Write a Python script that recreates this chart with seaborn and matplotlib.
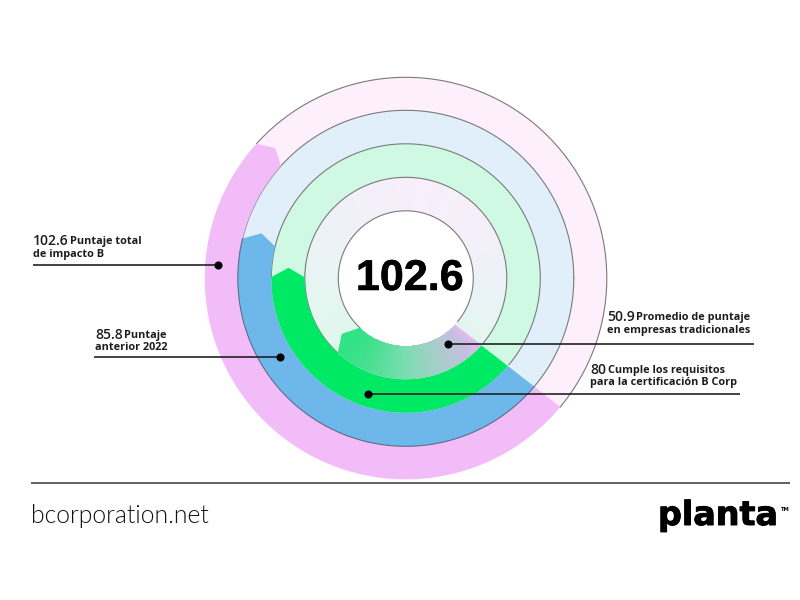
import numpy as np
import pandas as pd
import matplotlib
matplotlib.use("Agg")
import matplotlib.pyplot as plt
import matplotlib.patheffects as pe
from matplotlib.colors import LinearSegmentedColormap
import seaborn as sns

# ---- data ----
scores = [102.6, 85.8, 80, 50.9]
score_texts = ["102.6", "85.8", "80", "50.9"]
label_first = ["Puntaje total", "Puntaje", "Cumple los requisitos", "Promedio de puntaje"]
label_second = ["de impacto B", "anterior 2022", "para la certificación B Corp", "en empresas tradicionales"]
arc_sweep_deg = [182.0, 153.7, 140.5, 92.5]      # angle swept clockwise by each bar
solid_colors = ["#F2BCF9", "#6DB7EA", "#00E965", None]
pale_colors = ["#FDEFFC", "#E1EFFA", "#CFF9E3", None]
ring_edges = [201, 168, 134.5, 101, 67.5]        # outer to inner
center_text = "102.6"
source_text = "bcorporation.net"
brand_text = "planta"

W, H = 800, 600
CX, CY = 405.8, 278.3
RMAX = 205
START = -40.0

sns.set_theme(style="white")
fig = plt.figure(figsize=(8, 6), dpi=100, facecolor="white")

ov = fig.add_axes([0, 0, 1, 1], zorder=3)
ov.set_xlim(0, W); ov.set_ylim(H, 0); ov.axis("off"); ov.patch.set_alpha(0)
ax = fig.add_axes([(CX-RMAX)/W, (H-CY-RMAX)/H, 2*RMAX/W, 2*RMAX/H],
                  projection="polar", zorder=2)
ax.set_ylim(0, RMAX); ax.axis("off"); ax.patch.set_alpha(0)


def start_theta(r):
    """The bars begin on one straight cut, slightly off the centre."""
    t = np.linspace(-0.3, 1.3, 400)
    x = 50 + t*(154.3-50)
    y = -47.3 + t*(-128.3+47.3)
    return np.interp(r, np.hypot(x, y), np.degrees(np.arctan2(y, x)))


def bar_outline(r_in, r_out, sweep):
    end = START - sweep
    r_mid = (r_in+r_out)/2
    tip = end - np.degrees(9.5/r_mid)
    s_out, s_in = start_theta(r_out), start_theta(r_in)
    outer = np.linspace(s_out, end, 200)
    inner = np.linspace(end, s_in, 200)
    th = np.r_[outer, tip, inner]
    rr = np.r_[np.full(200, r_out), r_mid, np.full(200, r_in)]
    return np.radians(th), rr


# pale tracks
for i, c in enumerate(pale_colors):
    if c is None:
        continue
    tt = np.radians(np.linspace(0, 360, 361))
    ax.fill(np.r_[tt, tt[::-1]],
            np.r_[np.full(361, ring_edges[i]), np.full(361, ring_edges[i+1])],
            color=c, lw=0, zorder=1)

# innermost pale track: conic gradient
pale_cmap = LinearSegmentedColormap.from_list(
    "pale", ["#E4F5F1", "#F2F0F9", "#F9EEFB", "#EFF1F8", "#E4F6F0", "#D8F8E8", "#E4F5F1"])
th_grid = np.radians(np.linspace(-40, 320, 361))
r_grid = np.array([ring_edges[4], ring_edges[3]])
ax.pcolormesh(th_grid, r_grid, np.linspace(0, 1, 360)[None, :], cmap=pale_cmap,
              shading="flat", zorder=1, antialiased=False, rasterized=True)

# thin circles: each stops where its own solid bar runs
hair_sweeps = [arc_sweep_deg[0], 0.0, arc_sweep_deg[2], arc_sweep_deg[3], arc_sweep_deg[3]]
for r, sw in zip(ring_edges, hair_sweeps):
    if sw:
        arc = np.radians(np.linspace(START - sw, START - 360, 721))
    else:
        arc = np.radians(np.linspace(0, 360, 721))
    ax.plot(arc, np.full(721, r), color="#7A7A7A", lw=0.8, zorder=2)

# solid bars
for i, c in enumerate(solid_colors):
    th, rr = bar_outline(ring_edges[i+1], ring_edges[i], arc_sweep_deg[i])
    if c is not None:
        ax.fill(th, rr, color=c, lw=0, zorder=3)
    else:
        grad = LinearSegmentedColormap.from_list(
            "inner", [(0, "#E8B9F2"), (0.12, "#C4BFE0"), (0.3, "#A8CDCB"),
                      (0.55, "#7ADDB0"), (0.85, "#3FE08C"), (1, "#30E385")])
        clip = ax.fill(th, rr, facecolor="none", edgecolor="none", zorder=3)[0]
        tg = np.radians(np.linspace(START+10, START-arc_sweep_deg[i]-12, 301))
        vals = np.clip((np.degrees(tg[:-1])-START)/(-arc_sweep_deg[i]), 0, 1)
        m = ax.pcolormesh(tg, np.array([ring_edges[i+1], ring_edges[i]]), vals[None, :],
                          cmap=grad, shading="flat", zorder=3, antialiased=False, vmin=0, vmax=1)
        m.set_clip_path(clip)

# blue bar keeps its outer hairline
blue_th = np.radians(np.linspace(start_theta(ring_edges[1]), START-arc_sweep_deg[1], 300))
ax.plot(blue_th, np.full(300, ring_edges[1]), color="#5F6F8A", lw=0.8, zorder=4)

# leaders and dots (page layout)
leaders = pd.DataFrame({
    "x0": [33, 94, 368, 448], "x1": [218, 280, 740, 754], "y": [265, 357, 394, 344]})
text_pos = [(33, 241, 255), (95, 335, 348), (590, 370, 383), (607, 317, 330)]
dot_x = [218, 280, 368, 448]
for _, row in leaders.iterrows():
    ov.plot([row.x0, row.x1], [row.y, row.y], color="#222222", lw=1.2, zorder=1,
            solid_capstyle="butt")
sns.scatterplot(x=dot_x, y=leaders["y"].tolist(), color="black", s=34, linewidth=0, ax=ov, zorder=2)
ov.set_xlim(0, W); ov.set_ylim(H, 0)

LF = ["Open Sans", "DejaVu Sans"]
rend = fig.canvas.get_renderer()
for st, a, b, (x, y1, y2) in zip(score_texts, label_first, label_second, text_pos):
    t = ov.text(x, y1, st, fontsize=10, family=LF, weight=600, color="#1c1c1c", va="center", ha="left")
    w = t.get_window_extent(rend).width
    ov.text(x+w+1.5, y1+0.5, a, fontsize=7.8, family=LF, weight=700, color="#1c1c1c", va="center", ha="left")
    ov.text(x, y2, b, fontsize=7.8, family=LF, weight=700, color="#1c1c1c", va="center", ha="left")

ct = ov.text(CX+4, 279, center_text, fontsize=31, family="Liberation Sans", weight="bold",
             color="black", ha="center", va="center", zorder=5)
ct.set_path_effects([pe.withStroke(linewidth=0.4, foreground="black")])

# footer
ov.plot([31, 790], [483, 483], color="#555555", lw=1.3, solid_capstyle="butt")
ov.text(31, 523, source_text, fontsize=17.8, family="Lato", weight=300,
        color="#111111", ha="left", va="baseline")
br = ov.text(658, 525, brand_text, fontsize=24, family="DejaVu Sans", weight="bold", color="black",
             ha="left", va="baseline")
br.set_path_effects([pe.withStroke(linewidth=0.7, foreground="black")])
ov.text(780, 509.5, "TM", fontsize=3.8, family="DejaVu Sans", weight="bold", color="black", ha="left", va="center")

fig.savefig("out.png", dpi=100, facecolor="white")
